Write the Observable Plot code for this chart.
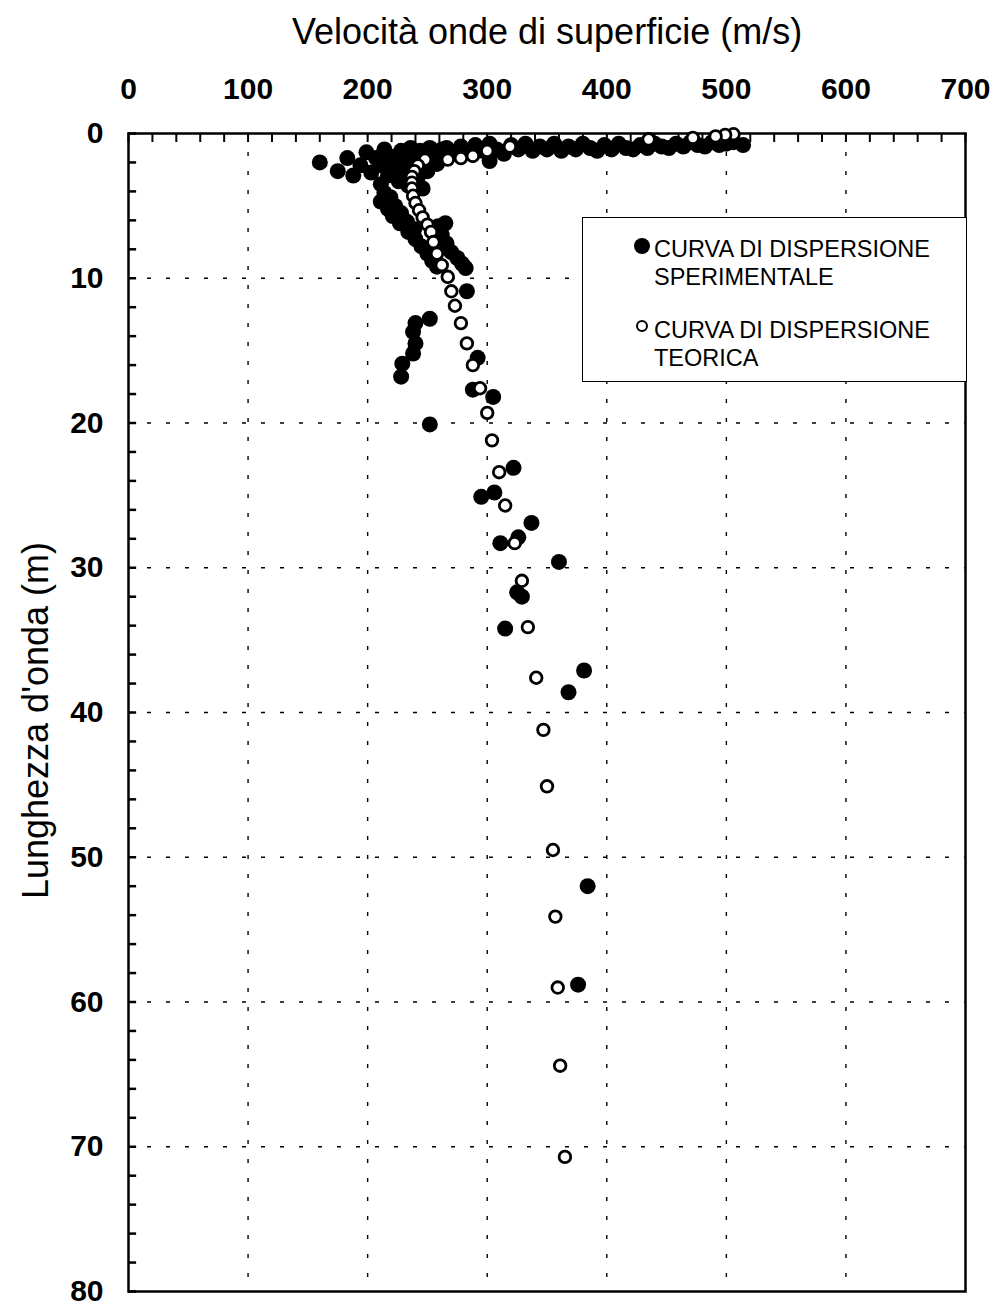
<!DOCTYPE html>
<html>
<head>
<meta charset="utf-8">
<script src="https://cdn.jsdelivr.net/npm/d3@7"></script>
<script src="https://cdn.jsdelivr.net/npm/@observablehq/plot@0.6"></script>
<style>
  html, body { margin: 0; padding: 0; background: #fff; overflow: hidden; }
  #wrap { position: relative; width: 992px; height: 1306px; font-family: "Liberation Sans", Arial, Helvetica, sans-serif; }
  #legend { position: absolute; left: 582px; top: 217px; width: 385px; height: 165px; border: 1.5px solid #000; background: #fff; box-sizing: border-box; }
  .li { position: absolute; left: 71px; font-size: 23.5px; line-height: 28px; color: #000; white-space: nowrap; }
  .mk { position: absolute; box-sizing: border-box; border-radius: 50%; }
</style>
</head>
<body>
<div id="wrap"></div>
<script>
// ---- data ----
const xTitle = "Velocità onde di superficie (m/s)";
const yTitle = "Lunghezza d'onda (m)";
const xTickValues = [0, 100, 200, 300, 400, 500, 600, 700];
const yTickValues = [0, 10, 20, 30, 40, 50, 60, 70, 80];
const xGridValues = [100, 200, 300, 400, 500, 600];
const yGridValues = [10, 20, 30, 40, 50, 60, 70];
const legendLabels = ["CURVA DI DISPERSIONE\nSPERIMENTALE", "CURVA DI DISPERSIONE\nTEORICA"];

// Curva sperimentale: velocità (m/s)
const sperV = [
  160,
  175,183,188,194,199,203,207,211,214,217,220,223,226,228,230,232,234,236,238,240,242,244,246,248,250,252,255,258,262,266,
  211,214,211,219,217,223,221,228,227,233,234,239,240,245,250,254,258,262,266,270,275,279,282,259,265,283,
  260,266,272,278,284,290,296,302,308,314,320,326,332,338,344,350,356,362,368,374,380,386,392,398,404,410,416,422,428,434,440,446,452,458,464,470,476,482,488,494,500,506,514,302,
  252,240,238,240,238,229,228,292,288,305,252,322,295,306,337,311,326,360,325,329,315,381,368,384,376
];
// Curva sperimentale: lunghezza d'onda (m)
const sperL = [
  2.0,
  2.6,1.7,2.9,2.2,1.3,2.7,1.7,2.2,1.1,2.9,1.6,2.3,3.3,1.2,1.9,2.7,3.6,1.0,1.5,2.2,3.0,1.2,3.8,1.8,2.6,1.0,1.4,2.1,1.1,1.7,
  3.5,4.1,4.7,4.4,5.2,5.0,5.7,5.5,6.2,6.1,6.8,6.6,7.3,7.8,8.3,8.8,9.2,7.0,7.6,8.2,8.6,9.0,9.3,6.4,6.2,10.9,
  1.5,1.0,1.4,0.9,1.3,0.8,1.2,0.7,1.1,1.4,0.8,1.1,0.7,1.2,0.9,1.1,0.7,1.2,0.9,1.1,0.7,1.0,1.2,0.8,1.1,0.7,1.0,1.1,0.8,1.0,0.7,0.9,1.0,0.7,0.9,0.6,0.8,0.9,0.6,0.8,0.7,0.6,0.8,1.9,
  12.8,13.1,13.7,14.5,15.2,15.9,16.8,15.5,17.7,18.2,20.1,23.1,25.1,24.8,26.9,28.3,27.9,29.6,31.7,32.0,34.2,37.1,38.6,52.0,58.8
];
// Curva teorica: velocità (m/s)
const teoV = [506,499,491,472,435,319,300,288,278,267,248,242,239,237,237,237,238,240,243,246,250,253,255,258,262,267,270,273,278,283,288,294,300,304,310,315,323,329,334,341,347,350,355,357,359,361,365];
// Curva teorica: lunghezza d'onda (m)
const teoL = [0.05,0.1,0.2,0.3,0.4,0.9,1.2,1.55,1.7,1.8,1.8,2.2,2.6,3.0,3.4,3.8,4.3,4.8,5.3,5.8,6.3,6.8,7.5,8.3,9.1,9.9,10.9,11.9,13.1,14.5,16.0,17.6,19.3,21.2,23.4,25.7,28.3,30.9,34.1,37.6,41.2,45.1,49.5,54.1,59.0,64.4,70.7];

const xMinor = d3.range(0, 701, 20);
const yMinor = d3.range(0, 81, 2);

const sper = sperV.map((v, i) => ({v, L: sperL[i]}));
const teo = teoV.map((v, i) => ({v, L: teoL[i]}));

const font = "'Liberation Sans', Arial, Helvetica, sans-serif";
const dash = {stroke: "#000", strokeWidth: 1.4, strokeDasharray: "4,15", strokeOpacity: 1};

const chart = Plot.plot({
  width: 992,
  height: 1306,
  marginTop: 133,
  marginLeft: 128,
  marginRight: 27,
  marginBottom: 15,
  style: {fontFamily: font, color: "#000", background: "#fff", overflow: "visible"},
  x: {domain: [0, 700]},
  y: {domain: [0, 80], reverse: true},
  marks: [
    Plot.ruleX(xGridValues, {...dash}),
    Plot.ruleY(yGridValues, {...dash}),
    Plot.ruleX(xMinor, {y1: 0, y2: 0.62, stroke: "#000", strokeWidth: 2}),
    Plot.ruleY(yMinor, {x1: 0, x2: 6.8, stroke: "#000", strokeWidth: 2.5}),
    Plot.axisX(xTickValues, {anchor: "top", tickSize: 0, tickPadding: 35, fontSize: 30, fontWeight: "bold", label: null}),
    Plot.axisY(yTickValues, {anchor: "left", tickSize: 0, tickPadding: 25, fontSize: 30, fontWeight: "bold", label: null}),
    Plot.frame({stroke: "#000", strokeWidth: 2.5}),
    Plot.dot(sper, {x: "v", y: "L", r: 8, fill: "#000", stroke: "none"}),
    Plot.dot(teo, {x: "v", y: "L", r: 5.8, fill: "#fff", stroke: "#000", strokeWidth: 2.8}),
    Plot.text([xTitle], {frameAnchor: "top", dy: -101, fontSize: 36, lineAnchor: "middle", fill: "#000"}),
    Plot.text([yTitle], {frameAnchor: "left", dx: -92, dy: 8, rotate: -90, textAnchor: "middle", fontSize: 36, lineAnchor: "middle", fill: "#000"})
  ]
});

const wrap = document.getElementById("wrap");
wrap.appendChild(chart);

// legend overlay
const legend = document.createElement("div");
legend.id = "legend";
const items = [
  {top: 17, mk: {left: 51, top: 20, size: 16, fill: "#000", border: "none"}},
  {top: 98, mk: {left: 53, top: 102, size: 12, fill: "#fff", border: "2.6px solid #000"}}
];
items.forEach((it, i) => {
  const t = document.createElement("div");
  t.className = "li";
  t.style.top = it.top + "px";
  t.innerHTML = legendLabels[i].replace("\n", "<br>");
  legend.appendChild(t);
  const m = document.createElement("div");
  m.className = "mk";
  m.style.left = it.mk.left + "px";
  m.style.top = it.mk.top + "px";
  m.style.width = it.mk.size + "px";
  m.style.height = it.mk.size + "px";
  m.style.background = it.mk.fill;
  m.style.border = it.mk.border;
  legend.appendChild(m);
});
wrap.appendChild(legend);
</script>
</body>
</html>
